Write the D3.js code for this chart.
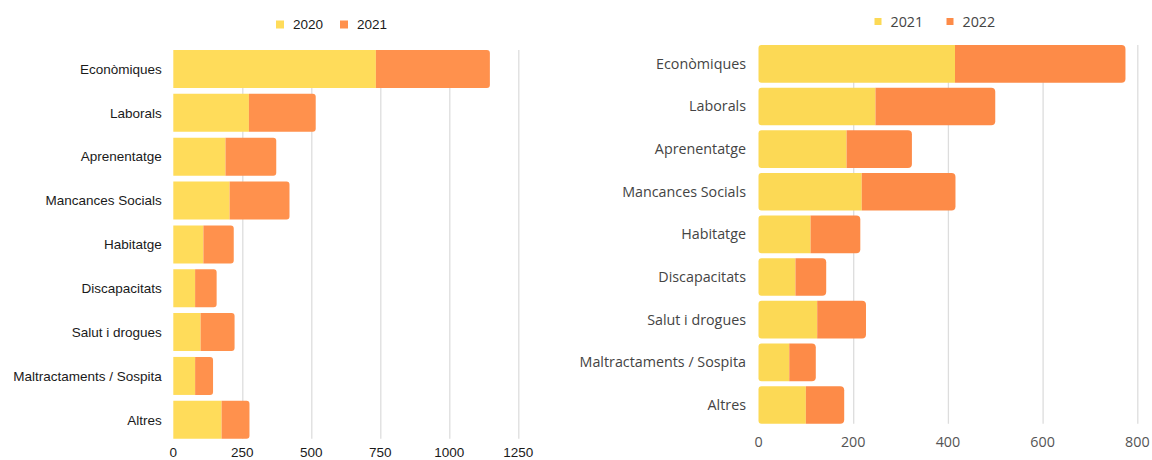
<!DOCTYPE html>
<html>
<head>
<meta charset="utf-8">
<script src="https://cdn.jsdelivr.net/npm/d3@7"></script>
<style>
  html, body { margin: 0; padding: 0; background: #fff; }
  svg { display: block; }
</style>
</head>
<body>
<svg id="chart" width="1152" height="460"></svg>
<script>
// ---- data ----
const categories = ["Econòmiques", "Laborals", "Aprenentatge", "Mancances Socials", "Habitatge",
  "Discapacitats", "Salut i drogues", "Maltractaments / Sospita", "Altres"];

const leftSeriesNames = ["2020", "2021"];
const left2020 = [734, 274, 189, 204, 109, 79, 99, 79, 175];
const left2021 = [413, 242, 184, 217, 110, 78, 123, 65, 101];
const leftTicks = [0, 250, 500, 750, 1000, 1250];

const rightSeriesNames = ["2021", "2022"];
const right2021 = [415, 247, 186, 218, 110, 78, 124, 65, 100];
const right2022 = [360, 253, 138, 198, 105, 65, 103, 56, 81];
const rightTicks = [0, 200, 400, 600, 800];

const svg = d3.select("#chart");

function roundedRect(x, y, w, h, rl, rr) {
  rl = Math.min(rl, w / 2, h / 2); rr = Math.min(rr, w / 2, h / 2);
  const p = d3.path();
  p.moveTo(x + rl, y);
  p.lineTo(x + w - rr, y);
  if (rr > 0) p.arcTo(x + w, y, x + w, y + rr, rr);
  p.lineTo(x + w, y + h - rr);
  if (rr > 0) p.arcTo(x + w, y + h, x + w - rr, y + h, rr);
  p.lineTo(x + rl, y + h);
  if (rl > 0) p.arcTo(x, y + h, x, y + h - rl, rl);
  p.lineTo(x, y + rl);
  if (rl > 0) p.arcTo(x, y, x + rl, y, rl);
  p.closePath();
  return p.toString();
}

function drawChart(cfg) {
  const g = svg.append("g");
  const rows = categories.map((c, i) => ({ cat: c, a: cfg.a[i], b: cfg.b[i] }));
  const stack = d3.stack().keys(["a", "b"])(rows);

  const x = d3.scaleLinear().domain([0, cfg.ticks[cfg.ticks.length - 1]]).range(cfg.xRange);
  const y = d3.scaleBand().domain(categories).range(cfg.yRange)
    .paddingInner(cfg.pad).paddingOuter(cfg.pad / 2);

  const gy0 = y(categories[0]);
  const gy1 = y(categories[categories.length - 1]) + y.bandwidth();

  // gridlines
  g.append("g").selectAll("line").data(cfg.ticks.slice(1)).join("line")
    .attr("x1", d => x(d) + 0.5).attr("x2", d => x(d) + 0.5)
    .attr("y1", gy0).attr("y2", gy1)
    .attr("stroke", cfg.gridColor).attr("stroke-width", 1.3);

  // bars
  const colors = [cfg.c1, cfg.c2];
  stack.forEach((layer, li) => {
    g.append("g").selectAll("path").data(layer).join("path")
      .attr("d", d => {
        const x0 = x(d[0]), x1 = x(d[1]);
        const rl = li === 0 ? cfg.rLeft : 0;
        const rr = li === 1 ? cfg.rRight : 0;
        return roundedRect(x0, y(d.data.cat), x1 - x0, y.bandwidth(), rl, rr);
      })
      .attr("fill", colors[li]);
  });

  // category labels
  g.append("g").selectAll("text").data(categories).join("text")
    .attr("x", x(0) - cfg.labelGap)
    .attr("y", d => y(d) + y.bandwidth() / 2)
    .attr("dy", "0.35em")
    .attr("text-anchor", "end")
    .attr("font-family", cfg.font).attr("font-size", cfg.fontSize)
    .attr("fill", cfg.textColor)
    .text(d => d);

  // x tick labels
  g.append("g").selectAll("text").data(cfg.ticks).join("text")
    .attr("x", d => x(d))
    .attr("y", cfg.tickY)
    .attr("dy", "0.35em")
    .attr("text-anchor", "middle")
    .attr("font-family", cfg.font).attr("font-size", cfg.fontSize)
    .attr("fill", cfg.tickColor)
    .text(d => d);

  // legend
  const lg = g.append("g");
  cfg.names.forEach((n, i) => {
    const lx = cfg.legendX[i];
    lg.append("rect").attr("x", lx - cfg.sq / 2).attr("y", cfg.legendY - cfg.sq / 2)
      .attr("width", cfg.sq).attr("height", cfg.sq).attr("fill", colors[i]);
    lg.append("text").attr("x", lx + cfg.legendTextOff).attr("y", cfg.legendY)
      .attr("dy", "0.35em").attr("font-family", cfg.font).attr("font-size", cfg.fontSize)
      .attr("fill", cfg.textColor).text(n);
  });
}

drawChart({
  a: left2020, b: left2021, names: leftSeriesNames, ticks: leftTicks,
  xRange: [173.3, 518.3], yRange: [47.1, 441.7], pad: 0.133,
  c1: "#ffdc5a", c2: "#ff914d", gridColor: "#dddddd",
  rLeft: 0, rRight: 3,
  font: "'Liberation Sans', Arial, sans-serif", fontSize: "13.5px",
  textColor: "#1a1a1a", tickColor: "#1a1a1a",
  labelGap: 11.5, tickY: 452.5,
  legendX: [280, 344], legendY: 24.5, sq: 8, legendTextOff: 13
});

drawChart({
  a: right2021, b: right2022, names: rightSeriesNames, ticks: rightTicks,
  xRange: [758.5, 1137.3], yRange: [42.5, 426.3], pad: 0.117,
  c1: "#fcd955", c2: "#fd8b48", gridColor: "#dddddd",
  rLeft: 3, rRight: 4,
  font: "'Open Sans', sans-serif", fontSize: "14.3px",
  textColor: "#444444", tickColor: "#555555",
  labelGap: 12.5, tickY: 441.5,
  legendX: [878, 950], legendY: 21.5, sq: 7, legendTextOff: 12.5
});
</script>
</body>
</html>
